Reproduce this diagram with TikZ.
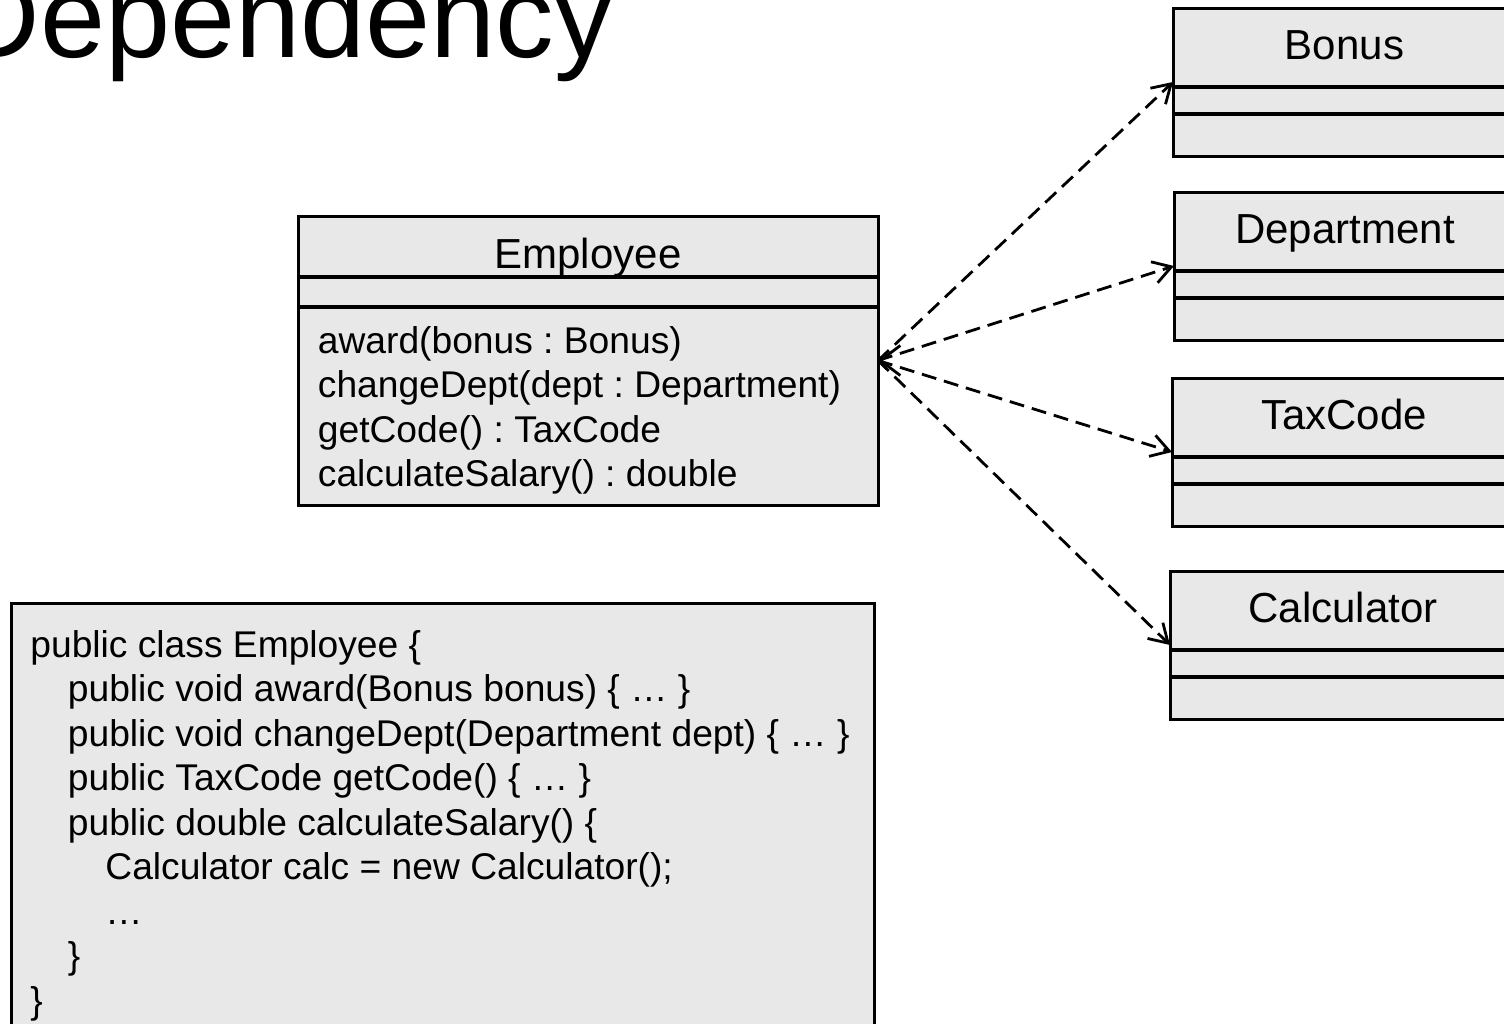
\documentclass[tikz,border=0pt]{standalone}
\usepackage{fontspec}
\setmainfont{Liberation Sans}
\usetikzlibrary{arrows.meta,calc}
\definecolor{boxfill}{RGB}{232,232,232}
\frenchspacing

\begin{document}
\begin{tikzpicture}[x=0.5pt,y=-0.5pt,
  classbox/.style={draw, fill=boxfill, line width=1.5pt, rectangle,
    inner sep=0pt, outer sep=0pt, anchor=north west},
  compline/.style={line width=1.6pt},
  dep/.style={line width=1.4pt, dash pattern=on 7.5pt off 4pt,
    -{Straight Barb[length=9pt,width=11pt]}},
  depstart/.style={line width=1.4pt, dash pattern=on 0pt off 40pt,
    {Straight Barb[length=10pt,width=15pt]}-},
  cname/.style={inner sep=0pt, anchor=base, font=\fontsize{21}{25}\selectfont},
  txt/.style={inner sep=0pt, anchor=base west, font=\fontsize{18.6}{22}\selectfont},
]
\useasboundingbox (0,0) rectangle (1504,1023);

% title
\node[inner sep=0pt, anchor=base west, font=\fontsize{58.5}{70}\selectfont]
  (title) at (-44.5,57) {Dependency};

% Employee class
\node[classbox, minimum width=290pt, minimum height=144.5pt] (emp) at (298,216) {};
\draw[compline] ($(emp.north west)+(0,61)$) -- ($(emp.north east)+(0,61)$);
\draw[compline] ($(emp.north west)+(0,91)$) -- ($(emp.north east)+(0,91)$);
\node[cname] (empname) at ($(emp.north)+(0,52)$) {Employee};
\node[txt] (m1) at (317.5,353) {award(bonus : Bonus)};
\node[txt] (m2) at (317.5,397.5) {changeDept(dept : Department)};
\node[txt] (m3) at (317.5,442) {getCode() : TaxCode};
\node[txt] (m4) at (317.5,486.5) {calculateSalary() : double};

% dependency targets
\foreach \nm/\lbl/\x/\y in {bonus/Bonus/1173/8, dept/Department/1174/192,
                            tax/TaxCode/1172/378, calc/Calculator/1170/571} {
  \node[classbox, minimum width={(1516-\x)*0.5pt}, minimum height=74pt] (\nm) at (\x,\y) {};
  \draw[compline] ($(\nm.north west)+(0,79)$) -- ($(\nm.north east)+(0,79)$);
  \draw[compline] ($(\nm.north west)+(0,106)$) -- ($(\nm.north east)+(0,106)$);
  \node[cname] (\nm name) at ($(\nm.north)+(0,51)$) {\lbl};
}

% dependency connectors
\draw[dep] (emp.east) -- (bonus.west);
\draw[dep] (emp.east) -- (dept.west);
\draw[dep] (emp.east) -- (tax.west);
\draw[dep] (emp.east) -- (calc.west);
\coordinate (empjoin) at ($(emp.east)+(20,0)$);
\draw[depstart] (emp.east) -- (empjoin);

% source code
\node[classbox, minimum width=431.5pt, minimum height=220pt] (code) at (11,603) {};
\node[txt] (c1) at (30,657) {public class Employee \{};
\node[txt] (c2) at (67.5,701.5) {public void award(Bonus bonus) \{ … \}};
\node[txt] (c3) at (67.5,746) {public void changeDept(Department dept) \{ … \}};
\node[txt] (c4) at (67.5,790.5) {public TaxCode getCode() \{ … \}};
\node[txt] (c5) at (67.5,835) {public double calculateSalary() \{};
\node[txt] (c6) at (105,879.5) {Calculator calc = new Calculator();};
\node[txt] (c7) at (105,924) {…};
\node[txt] (c8) at (67.5,968.5) {\}};
\node[txt] (c9) at (30,1013) {\}};
\end{tikzpicture}
\end{document}
